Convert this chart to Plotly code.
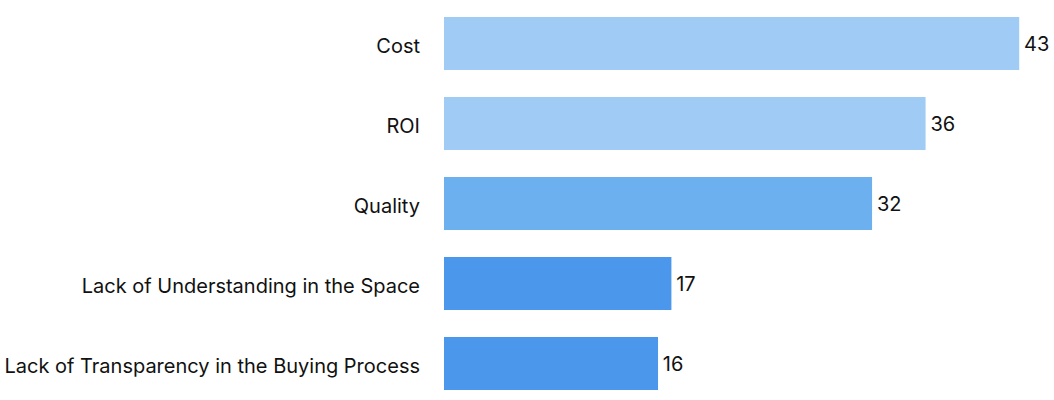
import plotly.graph_objects as go

categories = ["Cost", "ROI", "Quality", "Lack of Understanding in the Space",
              "Lack of Transparency in the Buying Process"]
values = [43, 36, 32, 17, 16]
colors = ["#9FCBF5", "#9FCBF5", "#6DB0F0", "#4A97EC", "#4A97EC"]

fig = go.Figure(go.Bar(
    x=values, y=categories, orientation="h",
    marker=dict(color=colors, line=dict(width=0)),
    text=values, texttemplate="\u200a%{text}", textposition="outside",
    textfont=dict(size=20, color="#111111", family="Inter"),
    cliponaxis=False, constraintext="none",
    hoverinfo="skip",
))

fig.update_layout(
    width=1054, height=400,
    margin=dict(l=444, r=0, t=0, b=0),
    paper_bgcolor="white", plot_bgcolor="white",
    bargap=0.34,
    showlegend=False,
    font=dict(family="Inter", size=20, color="#111111"),
    xaxis=dict(range=[0, 45.6], visible=False, fixedrange=True),
    yaxis=dict(categoryorder="array", categoryarray=categories,
               range=[4.456, -0.544], showgrid=False, zeroline=False,
               showline=False, ticks="", ticklabelstandoff=23,
               ticklabelshift=-2,
               tickfont=dict(size=20, color="#111111", family="Inter")),
)

fig.write_html("out.html")
